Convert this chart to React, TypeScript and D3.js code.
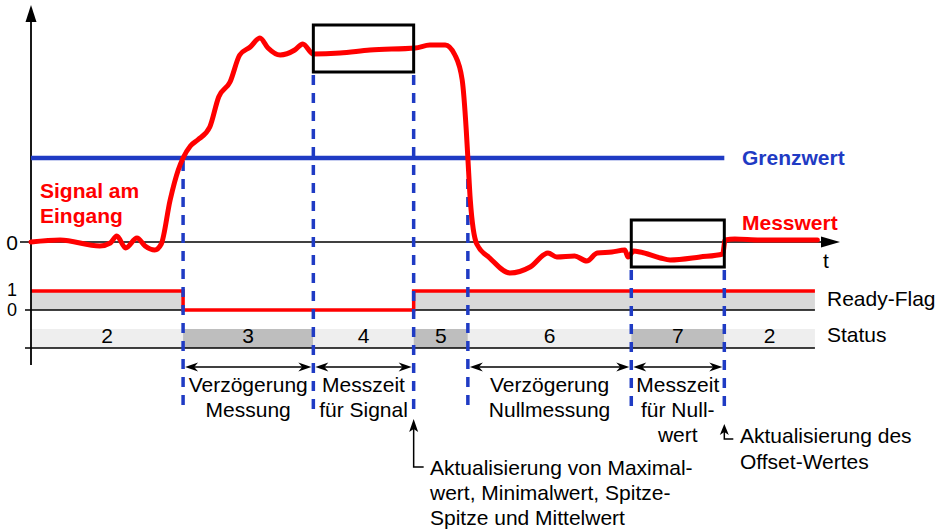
import React from 'react';
import * as d3 from 'd3';

const W = 947;
const H = 531;

// Input signal: time (0..100 along the t axis) and value (arbitrary units)
const signalT = [0, 3.6, 8.5, 9.8, 10.6, 11.7, 13.1, 14.1, 15.3, 16.1, 17.2, 18.2, 18.8, 19.7, 20.6, 22.1, 23.2, 24.6, 25.8, 27.1, 28.3, 29.3, 30.8, 32.6, 33.6, 34.9, 38.2, 41.9, 47.5, 49.3, 51.2, 52.4, 53.3, 53.8, 54.0, 54.3, 55.1, 56.7, 59.2, 61.7, 63.9, 65.0, 67.2, 68.7, 70.0, 71.8, 73.4, 73.8, 74.5, 75.3, 77.8, 79.0, 82.7, 85.5, 85.8, 87.0, 90.1, 97.2];
const signalV = [0, 0.1, -0.2, -0.05, 0.3, -0.3, 0.2, -0.2, -0.4, -0.1, 2.1, 3.6, 4.2, 4.8, 5.1, 5.75, 7.25, 8.0, 9.35, 9.75, 10.2, 9.7, 9.35, 9.6, 9.9, 9.4, 9.45, 9.6, 9.7, 9.85, 9.85, 9.35, 8.1, 5.6, 4.2, 2.1, -0.1, -0.8, -1.55, -1.25, -0.55, -0.75, -0.7, -0.95, -0.55, -0.5, -0.4, -0.75, -0.45, -0.5, -0.8, -0.9, -0.75, -0.6, 0.1, 0.15, 0.1, 0.1];

const threshold = 4.2;

// Event times (vertical dashed markers)
const eventTimes = [18.8, 34.9, 47.3, 54.0, 74.2, 85.7];
const eventTopV = [4.2, 8.5, 8.5, 4.2, -1.25, -1.25];

// Measurement windows (boxes)
const boxStart = [34.9, 74.2];
const boxEnd = [47.3, 85.7];
const boxLow = [8.5, -1.25];
const boxHigh = [10.85, 1.1];

// Status / Ready-Flag segments
const statusBounds = [0, 18.8, 34.9, 47.3, 54.0, 74.2, 85.7, 96.9];
const statusLabels = ['2', '3', '4', '5', '6', '7', '2'];
const statusDark = [false, true, false, true, false, true, false];
const readyFlag = [1, 0, 0, 1, 1, 1, 1];

// Interval annotations
const intervalStart = [18.8, 34.9, 54.0, 74.2];
const intervalEnd = [34.9, 47.3, 74.2, 85.7];
const intervalLabels = [
  ['Verzögerung', 'Messung'],
  ['Messzeit', 'für Signal'],
  ['Verzögerung', 'Nullmessung'],
  ['Messzeit', 'für Null-', 'wert'],
];

const note1 = ['Aktualisierung von Maximal-', 'wert, Minimalwert, Spitze-', 'Spitze und Mittelwert'];
const note2 = ['Aktualisierung des', 'Offset-Wertes'];

const RED = '#ff0000';
const BLUE = '#1f3bc4';
const FONT = 'Arial, "Liberation Sans", Helvetica, sans-serif';
const FS = 21;

export default function App() {
  const x = d3.scaleLinear().domain([0, 100]).range([31, 840]);
  const y = d3.scaleLinear().domain([-1, 11]).range([262, 22]);
  const ry = d3.scaleLinear().domain([0, 1]).range([310, 291]);

  const pts: [number, number][] = signalT.map((t, i) => [t, signalV[i]]);
  const sigLine = d3
    .line<[number, number]>()
    .x((d) => x(d[0]))
    .y((d) => y(d[1]))
    .curve(d3.curveMonotoneX)(pts);

  const readyPts: [number, number][] = statusBounds.map((t, i) => [t, readyFlag[Math.min(i, readyFlag.length - 1)]]);
  const readyLine = d3
    .line<[number, number]>()
    .x((d) => x(d[0]))
    .y((d) => ry(d[1]))
    .curve(d3.curveStepAfter)(readyPts);
  const readyArea = d3
    .area<[number, number]>()
    .x((d) => x(d[0]))
    .y0(ry(0))
    .y1((d) => ry(d[1]))
    .curve(d3.curveStepAfter)(readyPts);

  const x0 = x(0);
  const arrowY = 367;

  const arrowHead = (tipX: number, tipY: number, dir: number) => {
    const L = 13;
    const h = 4.5;
    return `M${tipX},${tipY} L${tipX + dir * L},${tipY - h} L${tipX + dir * L * 0.7},${tipY} L${tipX + dir * L},${tipY + h} Z`;
  };

  return (
    <svg
      width={W}
      height={H}
      style={{ position: 'absolute', left: 0, top: 0, background: '#fff' }}
      fontFamily={FONT}
    >
      <rect width={W} height={H} fill="#fff" />

      {/* Ready-flag area */}
      <path d={readyArea || ''} fill="#d9d9d9" />

      {/* Status bands */}
      {statusLabels.map((lab, i) => (
        <g key={'s' + i}>
          <rect
            x={x(statusBounds[i])}
            y={329}
            width={x(statusBounds[i + 1]) - x(statusBounds[i])}
            height={19}
            fill={statusDark[i] ? '#bebebe' : '#eeeeee'}
          />
          <text
            x={(x(statusBounds[i]) + x(statusBounds[i + 1])) / 2}
            y={343}
            fontSize={FS}
            textAnchor="middle"
            fill="#000"
          >
            {lab}
          </text>
        </g>
      ))}

      {/* baselines */}
      <line x1={25} x2={x(statusBounds[statusBounds.length - 1])} y1={ry(0)} y2={ry(0)} stroke="#000" strokeWidth={1.5} />
      <line x1={25} x2={x(statusBounds[statusBounds.length - 1])} y1={348} y2={348} stroke="#000" strokeWidth={1.5} />

      {/* Ready flag line */}
      <path d={readyLine || ''} fill="none" stroke={RED} strokeWidth={3.5} />

      {/* Y axis */}
      <line x1={x0} x2={x0} y1={365} y2={18} stroke="#000" strokeWidth={1.8} />
      <path d={`M${x0},5 L${x0 - 5.5},22 L${x0 + 5.5},22 Z`} fill="#000" />

      {/* zero line / t axis */}
      <line x1={20} x2={x(100) - 10} y1={y(0)} y2={y(0)} stroke="#000" strokeWidth={1.5} />
      <path d={`M${x(100)},${y(0)} L${x(100) - 19},${y(0) - 5.5} L${x(100) - 19},${y(0) + 5.5} Z`} fill="#000" />

      {/* Threshold */}
      <line x1={x0} x2={x(eventTimes[5])} y1={y(threshold)} y2={y(threshold)} stroke={BLUE} strokeWidth={4.5} />

      {/* Dashed event markers */}
      {eventTimes.map((t, i) => (
        <line
          key={'e' + i}
          x1={x(t)}
          x2={x(t)}
          y1={y(eventTopV[i]) + 3}
          y2={412}
          stroke={BLUE}
          strokeWidth={3.5}
          strokeDasharray="10 8"
        />
      ))}

      {/* Signal */}
      <path d={sigLine || ''} fill="none" stroke={RED} strokeWidth={5} strokeLinejoin="round" strokeLinecap="round" />

      {/* Boxes */}
      {boxStart.map((t, i) => (
        <rect
          key={'b' + i}
          x={x(t)}
          y={y(boxHigh[i])}
          width={x(boxEnd[i]) - x(t)}
          height={y(boxLow[i]) - y(boxHigh[i])}
          fill="none"
          stroke="#000"
          strokeWidth={3}
        />
      ))}

      {/* Interval arrows */}
      {intervalStart.map((t, i) => {
        const a = x(t) + 2;
        const b = x(intervalEnd[i]) - 2;
        const cx = (x(t) + x(intervalEnd[i])) / 2;
        return (
          <g key={'iv' + i}>
            <line x1={a + 8} x2={b - 8} y1={arrowY} y2={arrowY} stroke="#000" strokeWidth={1.5} />
            <path d={arrowHead(a, arrowY, 1)} fill="#000" />
            <path d={arrowHead(b, arrowY, -1)} fill="#000" />
            {intervalLabels[i].map((s, j) => (
              <text key={j} x={cx} y={392 + j * 25} fontSize={FS} textAnchor="middle" fill="#000">
                {s}
              </text>
            ))}
          </g>
        );
      })}

      {/* Update notes */}
      <path
        d={`M${x(eventTimes[2])},428 L${x(eventTimes[2])},467 L${x(eventTimes[2]) + 10},467`}
        fill="none"
        stroke="#000"
        strokeWidth={1.5}
      />
      <path d={`M${x(eventTimes[2])},419 L${x(eventTimes[2]) - 4.5},432 L${x(eventTimes[2])},429 L${x(eventTimes[2]) + 4.5},432 Z`} fill="#000" />
      {note1.map((s, j) => (
        <text key={'n1' + j} x={430} y={475 + j * 25} fontSize={FS} fill="#000">
          {s}
        </text>
      ))}

      <path
        d={`M${x(eventTimes[5])},432 L${x(eventTimes[5])},439 L${x(eventTimes[5]) + 9},439`}
        fill="none"
        stroke="#000"
        strokeWidth={1.5}
      />
      <path d={`M${x(eventTimes[5])},424 L${x(eventTimes[5]) - 4.5},435 L${x(eventTimes[5])},432 L${x(eventTimes[5]) + 4.5},435 Z`} fill="#000" />
      {note2.map((s, j) => (
        <text key={'n2' + j} x={740} y={443 + j * 26} fontSize={FS} fill="#000">
          {s}
        </text>
      ))}

      {/* Axis labels */}
      <text x={18} y={250} fontSize={FS} textAnchor="end" fill="#000">0</text>
      <text x={17} y={296} fontSize={18} textAnchor="end" fill="#000">1</text>
      <text x={17} y={316} fontSize={18} textAnchor="end" fill="#000">0</text>
      <text x={823} y={268} fontSize={FS} fill="#000">t</text>

      {/* Series labels */}
      <text x={40} y={198} fontSize={FS} fontWeight="bold" fill={RED}>Signal am</text>
      <text x={40} y={223} fontSize={FS} fontWeight="bold" fill={RED}>Eingang</text>
      <text x={742} y={165} fontSize={FS} fontWeight="bold" fill={BLUE}>Grenzwert</text>
      <text x={742} y={230} fontSize={FS} fontWeight="bold" fill={RED}>Messwert</text>

      <text x={827} y={306} fontSize={FS} fill="#000">Ready-Flag</text>
      <text x={827} y={342} fontSize={FS} fill="#000">Status</text>
    </svg>
  );
}
